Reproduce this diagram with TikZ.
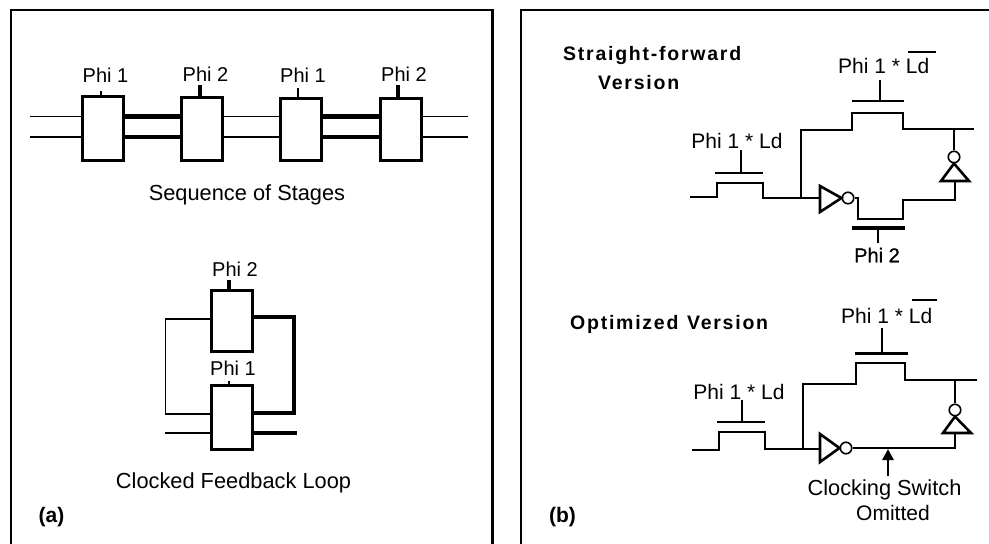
\documentclass[tikz,border=0pt]{standalone}
\usepackage{fontspec}
\setmainfont{Liberation Sans}
\newfontfamily\spacedbold[LetterSpace=9,WordSpace=1.2]{Liberation Sans Bold}
\usetikzlibrary{arrows.meta}
\tikzset{
  framel/.style={line width=2.6pt,line join=miter},
  stage/.style={draw,line width=3pt,minimum width=41pt,inner sep=0pt,anchor=north west,fill=white},
  thinw/.style={line width=1.3pt},
  fatw/.style={line width=4.4pt,line join=miter},
  cwire/.style={line width=2.6pt,line join=miter},
  lbl/.style={inner sep=0pt,font=\fontsize{20}{20}\selectfont},
  lbll/.style={inner sep=0pt,font=\fontsize{21}{21}\selectfont},
  lblx/.style={inner sep=0pt,font=\fontsize{21.8}{22}\selectfont},
  bub/.style={circle,draw,line width=1.6pt,minimum size=11.5pt,inner sep=0pt,fill=white},
  head/.style={inner sep=0pt,anchor=west,font=\fontsize{19.5}{20}\spacedbold},
  tag/.style={inner sep=0pt,font=\fontsize{21}{21}\bfseries},
}
\begin{document}
\begin{tikzpicture}[x=1pt,y=-1pt]
\useasboundingbox (0,0) rectangle (989,544);
% frames
\coordinate (fa) at (11,544); \coordinate (fb) at (11,10); \coordinate (fc) at (492.5,10); \coordinate (fd) at (492.5,544);
\draw[framel] (fa) -- (fb) -- (fc) -- (fd);
\coordinate (ga) at (521,544); \coordinate (gb) at (521,10); \coordinate (gc) at (989,10);
\draw[framel] (ga) -- (gb) -- (gc);
% stages
\node[stage,minimum height=64pt] (s1) at (81,95) {};
\node[stage,minimum height=63pt] (s2) at (180,96) {};
\node[stage,minimum height=62pt] (s3) at (278.5,97) {};
\node[stage,minimum height=62pt] (s4) at (378.5,97) {};
\coordinate (il) at (30,0); \coordinate (ir) at (468,0);
\foreach \y in {116.5,137}{
  \draw[thinw] (il |- 0,\y) -- (s1.west |- 0,\y);
  \draw[fatw] (s1.east |- 0,\y) -- (s2.west |- 0,\y);
  \draw[thinw] (s2.east |- 0,\y) -- (s3.west |- 0,\y);
  \draw[fatw] (s3.east |- 0,\y) -- (s4.west |- 0,\y);
  \draw[thinw] (s4.east |- 0,\y) -- (ir |- 0,\y);
}
\node[lbl] (p1) at (105.5,75) {Phi 1};
\node[lbl] (p2) at (205.5,74) {Phi 2};
\node[lbl] (p3) at (303,75) {Phi 1};
\node[lbl] (p4) at (404,74) {Phi 2};
\coordinate (t1) at (101,91); \coordinate (t2) at (200,85); \coordinate (t3) at (298,88); \coordinate (t4) at (398,85);
\draw[thinw] (t1) -- (s1.north -| t1);
\draw[line width=4.4pt] (t2) -- (s2.north -| t2);
\draw[thinw] (t3) -- (s3.north -| t3);
\draw[line width=4.4pt] (t4) -- (s4.north -| t4);
\node[lblx] (seq) at (247,195) {Sequence of Stages};
% feedback loop
\node[stage,minimum height=61pt] (u) at (209.5,289) {};
\node[stage,minimum height=64pt] (l) at (209.5,384) {};
\coordinate (lt) at (165.5,319); \coordinate (lb) at (165.5,414);
\draw[thinw] (u.west |- lt) -- (lt) -- (lb) -- (l.west |- lb);
\coordinate (rt) at (294,317); \coordinate (rb) at (294,413);
\draw[fatw] (u.east |- rt) -- (rt) -- (rb) -- (l.east |- rb);
\coordinate (ol) at (165,433); \coordinate (orr) at (297,433);
\draw[thinw] (ol) -- (l.west |- ol);
\draw[fatw] (l.east |- orr) -- (orr);
\coordinate (tu) at (229,280); \coordinate (tl) at (229,381);
\draw[line width=4.4pt] (tu) -- (u.north -| tu);
\draw[thinw] (tl) -- (l.north -| tl);
\node[lbl] (q2) at (235,269) {Phi 2};
\node[lbl] (q1) at (233,368) {Phi 1};
\node[lblx] (cfl) at (233.5,483) {Clocked Feedback Loop};
\node[tag] (ta) at (51.5,517) {(a)};
% headings
\node[head] (h1) at (563,55) {Straight-forward};
\node[head] (h2) at (598,83) {Version};
\node[head] (h3) at (570,324) {Optimized Version};
\node[tag] (tb) at (562.5,517) {(b)};
% straight-forward circuit
\node[lbll] (a1) at (737,141) {Phi 1 * Ld};
\node[lbll,anchor=west] (a2) at (838,66) {Phi 1 * Ld};
\coordinate (ov1) at (908,52); \coordinate (ov2) at (936,52);
\draw[line width=2.4pt] (ov1) -- (ov2);
\coordinate (a) at (690,197); \coordinate (j) at (801,198);
\draw[cwire] (a) -- (717,197) -- (717,183) -- (763,183) -- (763,198) -- (j);
\draw[cwire] (j) -- (819,198);
\draw[cwire] (j) -- (801,130) -- (852,130) -- (852,113) -- (903,113) -- (903,129) -- (974,129);
\draw[line width=2.4pt] (715,173) -- (763,173);
\draw[line width=2.4pt] (741,150) -- (741,173);
\draw[line width=2.4pt] (852,101) -- (904,101);
\draw[line width=2.4pt] (880,80) -- (880,101);
\node[bub] (i1) at (848,198) {};
\draw[cwire,fill=white] (820,186) -- (820,212) -- (i1.west) -- cycle;
\draw[cwire] (i1.east) -- (858,198) -- (858,219) -- (903,219) -- (903,200) -- (955,200) -- (955,182);
\draw[line width=3.4pt] (852,228) -- (905,228);
\draw[line width=2.4pt] (878,228) -- (878,243);
\node[lbl,font=\fontsize{20}{20}\selectfont\addfontfeatures{FakeBold=1}] (a3) at (877,255) {Phi 2};
\node[bub] (i2) at (954,157) {};
\draw[cwire] (954,130) -- (i2.north);
\draw[cwire,fill=white] (i2.south) -- (941,181) -- (969,181) -- cycle;
% optimized circuit
\node[lbll] (b1) at (739,392) {Phi 1 * Ld};
\node[lbll,anchor=west] (b2) at (841,316) {Phi 1 * Ld};
\coordinate (ov3) at (912,300); \coordinate (ov4) at (937,300);
\draw[line width=2.4pt] (ov3) -- (ov4);
\coordinate (b) at (692,450); \coordinate (k) at (803,449);
\draw[cwire] (b) -- (719,450) -- (719,432) -- (765,432) -- (765,449) -- (k);
\draw[cwire] (k) -- (820,449);
\draw[cwire] (k) -- (803,384) -- (856,384) -- (856,363) -- (905,363) -- (905,380) -- (977,380);
\draw[line width=2.4pt] (717,422) -- (765,422);
\draw[line width=2.4pt] (742,400) -- (742,422);
\draw[line width=3pt] (855,353) -- (908,353);
\draw[line width=2.4pt] (882,328) -- (882,353);
\node[bub] (i3) at (846,448) {};
\draw[cwire,fill=white] (820,434) -- (820,462) -- (i3.west) -- cycle;
\draw[cwire] (i3.east) -- (955,448) -- (955,432);
\node[bub] (i4) at (955,410) {};
\draw[cwire] (955,381) -- (i4.north);
\draw[cwire,fill=white] (i4.south) -- (943,433) -- (971,433) -- cycle;
\coordinate (ar) at (888,476); \coordinate (at) at (888,449);
\draw[line width=2.6pt,-{Triangle[length=11pt,width=11pt]}] (ar) -- (at);
\node[lblx] (c1) at (884.5,490) {Clocking Switch};
\node[lbll] (c2) at (893,513) {Omitted};
\end{tikzpicture}
\end{document}
